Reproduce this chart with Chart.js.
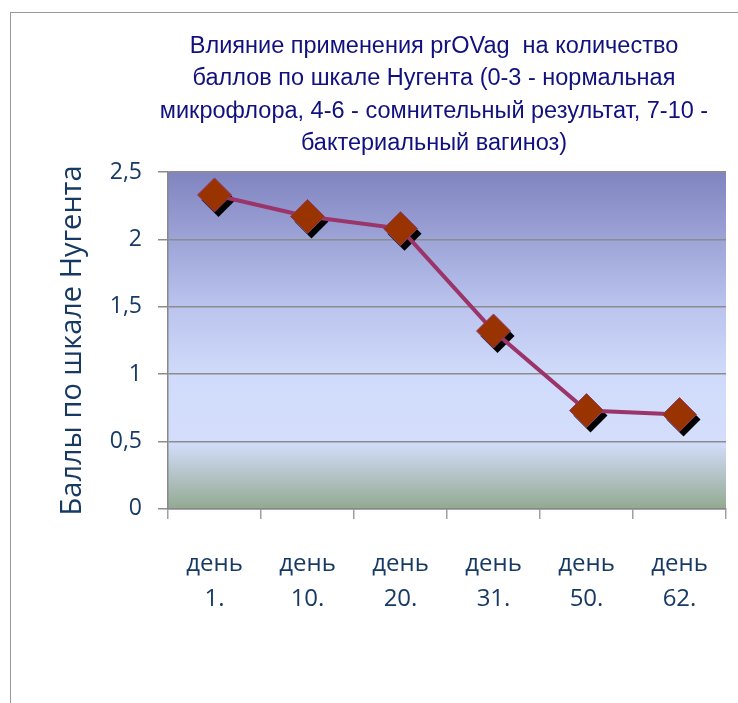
<!DOCTYPE html>
<html>
<head>
<meta charset="utf-8">
<script src="https://cdn.jsdelivr.net/npm/chart.js@4.4.1/dist/chart.umd.min.js"></script>
<style>
  html, body { margin: 0; padding: 0; background: #ffffff; width: 738px; height: 703px; overflow: hidden; }
  #frame { position: absolute; left: 10px; top: 12px; width: 800px; height: 800px; border-left: 1.5px solid #999; border-top: 1.5px solid #999; }
  #wrap { position: absolute; left: 0; top: 0; width: 738px; height: 703px; }
</style>
</head>
<body>
<div id="frame"></div>
<div id="wrap"><canvas id="c" width="738" height="703"></canvas></div>
<script>
const titleLines = [
  "Влияние применения prOVag  на количество",
  "баллов по шкале Нугента (0-3 - нормальная",
  "микрофлора, 4-6 - сомнительный результат, 7-10 -",
  "бактериальный вагиноз)"
];
const yAxisTitle = "Баллы по шкале Нугента";
const categories = [["день", "1."], ["день", "10."], ["день", "20."], ["день", "31."], ["день", "50."], ["день", "62."]];
const scores = [2.33, 2.17, 2.08, 1.32, 0.73, 0.70];
const yMin = 0, yMax = 2.5, yStep = 0.5;

const navy = '#173A64';

const plotBackground = {
  id: 'plotBackground',
  beforeDraw(chart) {
    const {ctx, chartArea: a} = chart;
    const g = ctx.createLinearGradient(0, a.top, 0, a.bottom);
    g.addColorStop(0, '#8084C0');
    g.addColorStop(0.4, '#BAC4EE');
    g.addColorStop(0.6, '#D0DAFA');
    g.addColorStop(0.8, '#D4DEFC');
    g.addColorStop(1, '#93A991');
    ctx.save();
    ctx.fillStyle = g;
    ctx.fillRect(a.left, a.top, a.right - a.left, a.bottom - a.top);
    ctx.restore();
  }
};

const markerShadow = {
  id: 'markerShadow',
  beforeDatasetsDraw(chart) {
    const ctx = chart.ctx;
    const meta = chart.getDatasetMeta(0);
    ctx.save();
    ctx.fillStyle = '#000000';
    meta.data.forEach(p => {
      const r = 17, x = p.x + 4, y = p.y + 5;
      ctx.beginPath();
      ctx.moveTo(x - r, y); ctx.lineTo(x, y - r); ctx.lineTo(x + r, y); ctx.lineTo(x, y + r);
      ctx.closePath();
      ctx.fill();
    });
    ctx.restore();
  }
};

const titleShift = {
  id: 'titleShift',
  afterLayout(chart) {
    const t = chart.titleBlock;
    if (t) { t.left = 142; t.right = chart.chartArea.right; }
  }
};

new Chart(document.getElementById('c'), {
  type: 'line',
  data: {
    labels: categories,
    datasets: [{
      data: scores,
      borderColor: '#9B3468',
      borderWidth: 4,
      tension: 0,
      pointStyle: 'rectRot',
      pointRadius: 17,
      pointHoverRadius: 17,
      pointBackgroundColor: '#993300',
      pointBorderColor: '#8E3B6E',
      pointBorderWidth: 1
    }]
  },
  plugins: [plotBackground, markerShadow, titleShift],
  options: {
    responsive: false,
    animation: false,
    layout: { autoPadding: false, padding: { left: 0, right: 12, top: 0, bottom: 58 } },
    plugins: {
      legend: { display: false },
      tooltip: { enabled: false },
      title: {
        display: true,
        text: titleLines,
        color: '#10107F',
        font: { family: 'Liberation Sans', size: 23.5, weight: 'normal', lineHeight: 1.362 },
        padding: { top: 31, bottom: 13 }
      }
    },
    scales: {
      x: {
        type: 'category',
        offset: true,
        afterFit(scale) { scale.paddingLeft = 0; scale.paddingRight = 0; },
        grid: { offset: true, drawOnChartArea: false, drawTicks: true, tickLength: 10, color: '#A0A0A0', lineWidth: 1.5 },
        border: { display: true, color: '#888888', width: 1.5 },
        ticks: { color: navy, font: { family: 'Open Sans', size: 24, lineHeight: 1.46 }, padding: 28, maxRotation: 0, autoSkip: false }
      },
      y: {
        min: yMin, max: yMax,
        afterFit(scale) { scale.width = 168; },
        grid: { color: '#8C8C8C', lineWidth: 1.5, tickLength: 10 },
        border: { display: true, color: '#888888', width: 1.5 },
        ticks: {
          stepSize: yStep,
          color: navy,
          padding: 16,
          font: { family: 'Open Sans', size: 23 },
          callback: v => String(v).replace('.', ',')
        },
        title: {
          display: true,
          text: yAxisTitle,
          color: navy,
          font: { family: 'Open Sans', size: 29 },
          padding: { top: 55, bottom: 0 }
        }
      }
    }
  }
});
</script>
</body>
</html>
